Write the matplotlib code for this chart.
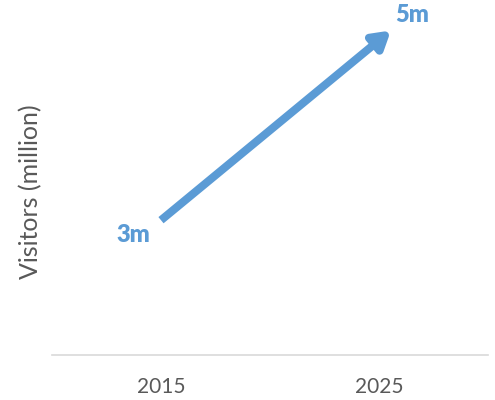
import matplotlib.pyplot as plt
from matplotlib.transforms import ScaledTranslation

years = ['2015', '2025']
visitors = [3, 5]
point_labels = ['3m', '5m']

blue = '#5B9BD5'
grey = '#595959'

plt.rcParams['font.family'] = ['Lato', 'DejaVu Sans']

fig = plt.figure(figsize=(4.95, 4.0), dpi=100)
ax = fig.add_axes([52 / 495, 45 / 400, 436 / 495, 355 / 400])

x = list(range(len(years)))

ax.set_xlim(-0.5, 1.5)
ax.set_ylim(1.5, 5.45)

# excel style arrow head sticks out a bit past the last point
tip = ax.transData + ScaledTranslation(0.12, 0.10, fig.dpi_scale_trans)
ax.annotate('', xy=(x[1], visitors[1]), xycoords=tip,
            xytext=(x[0], visitors[0]), textcoords='data',
            arrowprops=dict(arrowstyle='-|>,head_length=0.5,head_width=0.3', color=blue,
                            lw=5.8, shrinkA=0, shrinkB=0, mutation_scale=20,
                            capstyle='butt'))

ax.annotate(point_labels[0], (x[0], visitors[0]), xytext=(-7.5, -16),
            textcoords='offset points', color=blue, fontsize=17,
            fontweight='heavy', ha='right', va='baseline')
ax.annotate(point_labels[1], (x[1], visitors[1]), xytext=(11.5, 13),
            textcoords='offset points', color=blue, fontsize=17,
            fontweight='heavy', ha='left', va='baseline')

ax.set_xticks(x)
ax.set_xticklabels(years, color=grey, fontsize=15)
ax.set_yticks([])
ax.tick_params(axis='x', length=0, pad=16)
ax.set_ylabel('Visitors (million)', color=grey, fontsize=18)
ax.yaxis.label.set_va('center')
ax.yaxis.set_label_coords(-0.05, 0.46)

for s in ['top', 'right', 'left']:
    ax.spines[s].set_visible(False)
ax.spines['bottom'].set_color('#D9D9D9')
ax.spines['bottom'].set_linewidth(1.2)

fig.savefig('out.png', dpi=100)
